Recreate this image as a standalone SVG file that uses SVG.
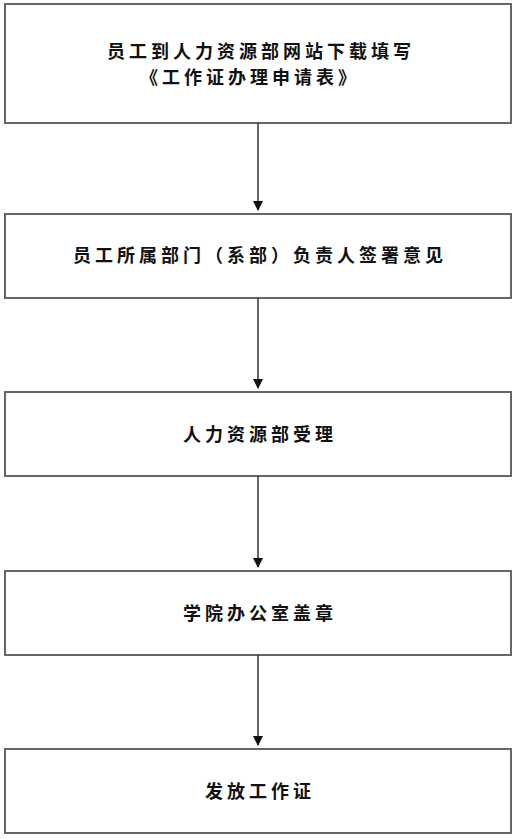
<svg xmlns="http://www.w3.org/2000/svg" width="516" height="839" viewBox="0 0 516 839">
<style>
.box{fill:#fff;stroke:#666;stroke-width:2}
.t{font-family:"Noto Sans CJK SC","Noto Sans CJK JP",sans-serif;font-size:18px;font-weight:bold;fill:#111;letter-spacing:4px}
.c{stroke:#333;stroke-width:1.5;fill:none}
</style>
<defs>
<marker id="ah" markerWidth="10" markerHeight="10" refX="9" refY="5" orient="auto" markerUnits="userSpaceOnUse">
<path d="M0,0 L10,5 L0,10 Z" fill="#111"/>
</marker>
</defs>
<rect width="516" height="839" fill="#fff"/>
<g id="n1"><rect class="box" x="5" y="4" width="506" height="119"/>
<text class="t" x="107" y="58">员工到人力资源部网站下载填写</text>
<text class="t" x="140" y="84">《工作证办理申请表》</text></g>
<g id="n2"><rect class="box" x="5" y="214" width="506" height="84"/>
<text class="t" x="260" y="262" text-anchor="middle">员工所属部门（系部）负责人签署意见</text></g>
<g id="n3"><rect class="box" x="5" y="392" width="506" height="84"/>
<text class="t" x="260" y="441" text-anchor="middle">人力资源部受理</text></g>
<g id="n4"><rect class="box" x="5" y="571" width="506" height="84"/>
<text class="t" x="260" y="620" text-anchor="middle">学院办公室盖章</text></g>
<g id="n5"><rect class="box" x="5" y="749" width="506" height="84"/>
<text class="t" x="260" y="798" text-anchor="middle">发放工作证</text></g>
<g id="connectors">
<line class="c" x1="258" y1="123" x2="258" y2="210" marker-end="url(#ah)"/>
<line class="c" x1="258" y1="298" x2="258" y2="388" marker-end="url(#ah)"/>
<line class="c" x1="258" y1="476" x2="258" y2="567" marker-end="url(#ah)"/>
<line class="c" x1="258" y1="655" x2="258" y2="745" marker-end="url(#ah)"/>
</g>
</svg>
